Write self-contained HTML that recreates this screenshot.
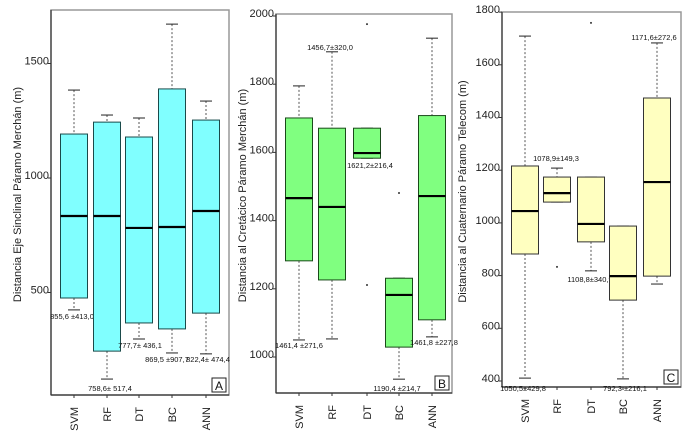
<!DOCTYPE html>
<html><head><meta charset="utf-8"><style>
body{margin:0;background:#fff;width:693px;height:436px;overflow:hidden;font-family:"Liberation Sans",sans-serif}
svg{display:block}
</style></head><body>
<svg id="chart" width="693" height="436"></svg>
<script>
const categories=["SVM","RF","DT","BC","ANN"];
// [lowerWhisker, Q1, median, Q3, upperWhisker]
const statsA=[[424,476,834,1192,1384],[122,244,834,1244,1275],[297,367,782,1179,1262],[236,341,786,1389,1672],[232,410,856,1253,1336]];
const statsB=[[1050,1282,1466,1701,1795],[1053,1226,1440,1671,1895],[1583,1583,1598,1671,1671],[935,1029,1182,1231,1231],[1059,1109,1472,1708,1935]];
const statsC=[[411,882,1045,1216,1709],[1079,1079,1113,1174,1208],[818,928,996,1174,1174],[408,707,798,988,988],[768,798,1155,1474,1683]];
const outliersA=[];
const outliersB=[[2,1976],[2,1211],[3,1481]];
const outliersC=[[1,833],[2,1759]];
const ticksA=[500,1000,1500];
const ticksB=[1000,1200,1400,1600,1800,2000];
const ticksC=[400,600,800,1000,1200,1400,1600,1800];
const labelsA=["855,6 ±413,0","758,6± 517,4","777,7± 436,1","869,5 ±907,7","822,4± 474,4"];
const labelsB=["1461,4 ±271,6","1456,7±320,0","1621,2±216,4","1190,4 ±214,7","1461,8 ±227,8"];
const labelsC=["1050,5±429,8","1078,9±149,3","1108,8±340,9","792,3 ±216,1","1171,6±272,6"];

const NS="http://www.w3.org/2000/svg";
const svg=document.getElementById('chart');
function mk(t,a,p){const e=document.createElementNS(NS,t);for(const k in a)e.setAttribute(k,a[k]);(p||svg).appendChild(e);return e;}

const panels=[
 {id:'a',stats:statsA,out:outliersA,ticks:ticksA,labels:labelsA,fill:'#80ffff',stroke:'#1a4a4a',
  x0:51,x1:229,y0:10,y1:395,v0:1000,p0:178,ppu:114.5/500,cx:[74,107,139,172,206],
  title:'Distancia Eje Sinclinal Páramo Merchán (m)',tx:21,letter:'A',
  lab:[[72,316],[110,388],[140,345],[167,359],[208,359]]},
 {id:'b',stats:statsB,out:outliersB,ticks:ticksB,labels:labelsB,fill:'#80ff80',stroke:'#1a4a1a',
  x0:276,x1:452,y0:14,y1:393,v0:1000,p0:357,ppu:68.2/200,cx:[299,332,367,399,432],
  title:'Distancia al Cretácico Páramo Merchán (m)',tx:246,letter:'B',
  lab:[[299,345],[330,47],[370,165],[397,388],[434,342]]},
 {id:'c',stats:statsC,out:outliersC,ticks:ticksC,labels:labelsC,fill:'#ffffc0',stroke:'#333',
  x0:502,x1:681,y0:12,y1:387,v0:400,p0:381,ppu:52.7/200,cx:[525,557,591,623,657],
  title:'Distancia al Cuaternario Páramo Telecom (m)',tx:466,letter:'C',
  lab:[[523,388],[556,158],[590,279],[625,388],[654,37]]}
];

panels.forEach(P=>{
  const g=mk('g',{});
  
  
  const y=v=>P.p0-(v-P.v0)*P.ppu;
  const fr=mk('rect',{x:P.x0,y:P.y0,width:P.x1-P.x0,height:P.y1-P.y0,fill:'none',stroke:'#999','stroke-width':1.5},g);
  
  
  mk('line',{x1:P.x0,y1:P.y0,x2:P.x0,y2:P.y1,stroke:'#333','stroke-width':1.2},g);
  mk('line',{x1:P.x0,y1:P.y1,x2:P.x1,y2:P.y1,stroke:'#333','stroke-width':1.2},g);
  P.ticks.forEach(t=>{
    const yy=y(t);
    mk('line',{x1:P.x0-3,y1:yy,x2:P.x0,y2:yy,stroke:'#333'},g);
    const tl=mk('text',{x:P.x0-2,y:yy+1,'font-size':11,'text-anchor':'end',fill:'#222'},g);
    tl.textContent=t;
    
    
  });
  const yt=mk('text',{x:P.tx,y:(P.y0+P.y1)/2-8,'font-size':11,'text-anchor':'middle',fill:'#222',transform:`rotate(-90 ${P.tx} ${(P.y0+P.y1)/2-8})`},g);
  yt.textContent=P.title;
  
  
  P.stats.forEach((s,i)=>{
    const cx=P.cx[i],w=27;
    const bg=mk('g',{},g);
    
    
    mk('line',{x1:cx,y1:y(s[4]),x2:cx,y2:y(s[3]),stroke:'#555','stroke-dasharray':'2,2'},bg);
    mk('line',{x1:cx,y1:y(s[1]),x2:cx,y2:y(s[0]),stroke:'#555','stroke-dasharray':'2,2'},bg);
    mk('line',{x1:cx-6,y1:y(s[4]),x2:cx+6,y2:y(s[4]),stroke:'#222'},bg);
    mk('line',{x1:cx-6,y1:y(s[0]),x2:cx+6,y2:y(s[0]),stroke:'#222'},bg);
    mk('rect',{x:cx-w/2,y:y(s[3]),width:w,height:Math.max(1,y(s[1])-y(s[3])),fill:P.fill,stroke:P.stroke,'stroke-width':1},bg);
    mk('line',{x1:cx-w/2,y1:y(s[2]),x2:cx+w/2,y2:y(s[2]),stroke:'#000','stroke-width':2.2},bg);
    mk('line',{x1:cx,y1:P.y1,x2:cx,y2:P.y1+3,stroke:'#333'},g);
    const cl=mk('text',{x:cx+4,y:P.y1+12,'font-size':11,'text-anchor':'end',fill:'#222',transform:`rotate(-90 ${cx+4} ${P.y1+12})`},g);
    cl.textContent=categories[i];
    
    
    const sl=mk('text',{x:P.lab[i][0],y:P.lab[i][1]+3,'font-size':7.5,'text-anchor':'middle',fill:'#111'},g);
    sl.textContent=P.labels[i];
    
    
  });
  P.out.forEach(o=>{
    const c=mk('circle',{cx:P.cx[o[0]],cy:y(o[1]),r:1,fill:'#333'},g);
    
    
  });
  const lb=mk('rect',{x:P.x1-17,y:P.y1-17,width:14,height:14,fill:'#fff',stroke:'#222'},g);
  
  
  const lt=mk('text',{x:P.x1-10,y:P.y1-5,'font-size':12,'text-anchor':'middle',fill:'#111'},g);
  lt.textContent=P.letter;
  
  
});
</script>
</body></html>
